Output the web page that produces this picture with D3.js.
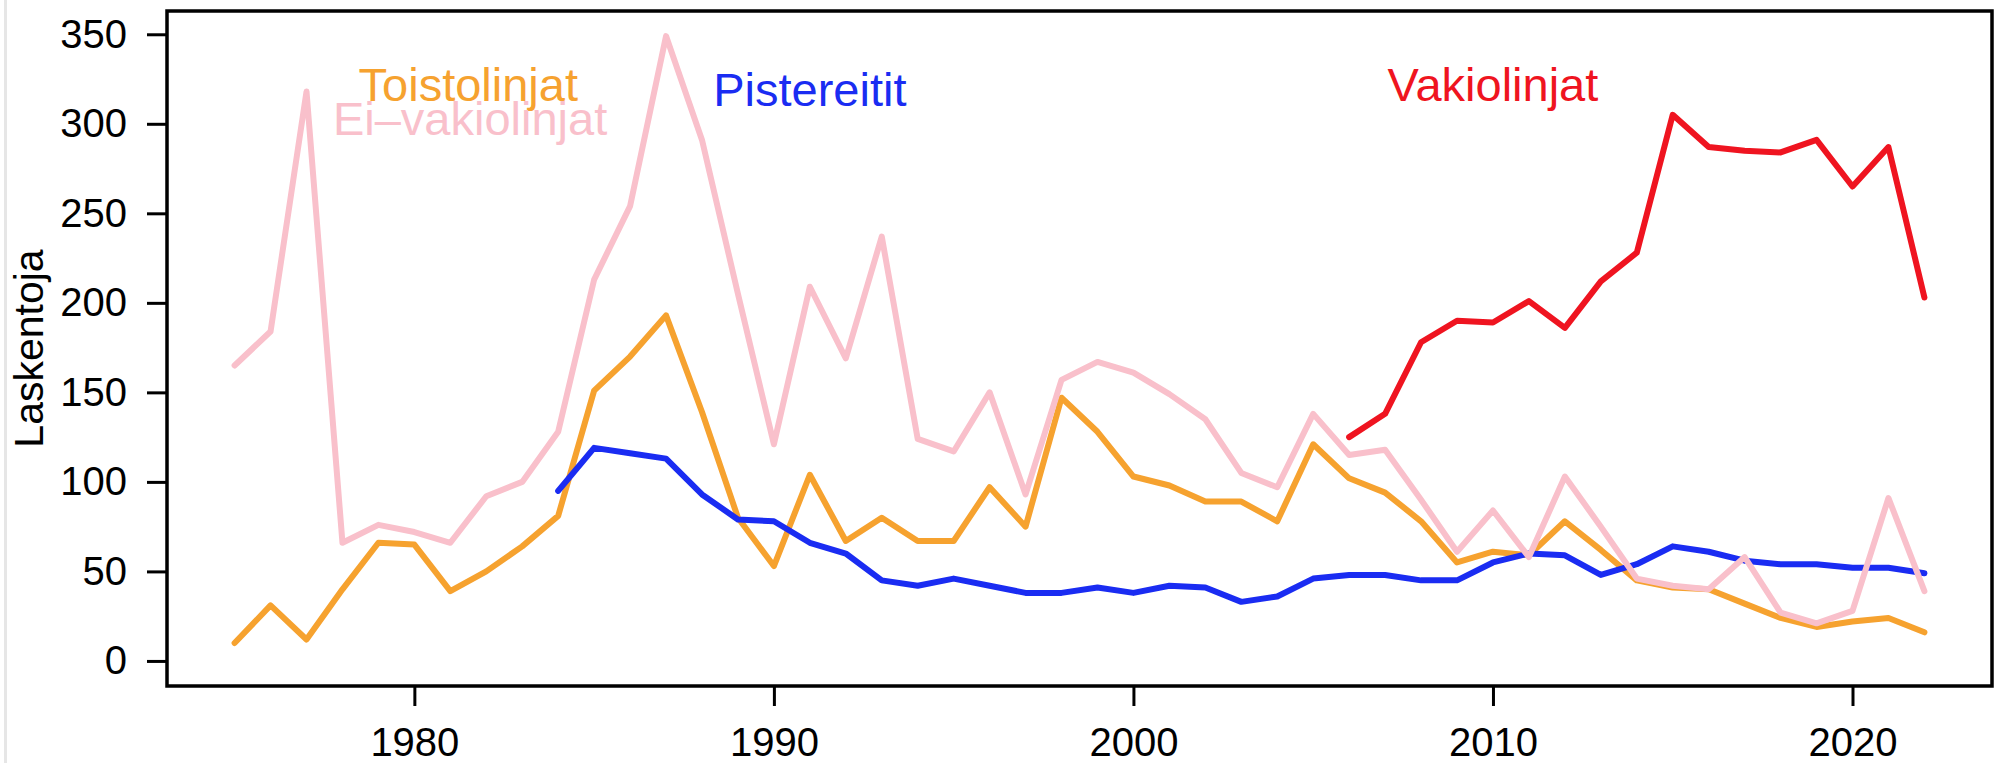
<!DOCTYPE html>
<html lang="fi">
<head>
    <meta charset="UTF-8">
    <script src="https://d3js.org/d3.v7.min.js"></script>
    <style>
        body {
            margin: 0;
            background: #fff;
            font-family: "Liberation Sans", Arial, Helvetica, sans-serif;
        }
        svg text {
            font-family: "Liberation Sans", Arial, Helvetica, sans-serif;
        }
    </style>
</head>
<body>
    <div id="chart"></div>
    <script>
        // vuodet ja sarjat (luettu kuvasta)
        const years = d3.range(1975, 2023);

        const toisto = [10, 31, 12, 40, 66, 65, 39, 50, 64, 81, 151, 170, 193, 139, 80, 53,
            104, 67, 80, 67, 67, 97, 75, 147, 128, 103, 98, 89, 89, 78, 121, 102,
            94, 78, 55, 61, 59, 78, 62, 45, 41, 40, 32, 24, 19, 22, 24, 16];

        const eiVakio = [165, 184, 318, 66, 76, 72, 66, 92, 100, 128, 213, 254, 349, 291, 205, 121,
            209, 169, 237, 124, 117, 150, 93, 157, 167, 161, 149, 135, 105, 97, 138, 115,
            118, 90, 61, 84, 58, 103, 75, 46, 42, 40, 58, 27, 21, 28, 91, 39];

        const pisteYears = d3.range(1984, 2023);
        const piste = [95, 119, 116, 113, 93, 79, 78, 66, 60, 45, 42, 46, 42, 38, 38, 41,
            38, 42, 41, 33, 36, 46, 48, 48, 45, 45, 55, 60, 59, 48, 54, 64,
            61, 56, 54, 54, 52, 52, 49];

        const vakioYears = d3.range(2006, 2023);
        const vakio = [125, 138, 178, 190, 189, 201, 186, 212, 228, 305, 287, 285, 284, 291, 265, 287, 203];

        const yTicks = [0, 50, 100, 150, 200, 250, 300, 350];
        const xTicks = [1980, 1990, 2000, 2010, 2020];

        // tekstit kuvaajan sisällä: [teksti, vuosi, arvo, väri]
        const labels = [
            ["Toistolinjat", 1981.5, 313, "#f6a22f"],
            ["Ei\u2013vakiolinjat", 1981.55, 293.6, "#f9c0cb"],
            ["Pistereitit", 1991.0, 309.8, "#1a2cf2"],
            ["Vakiolinjat", 2010.0, 313, "#ef1420"]
        ];

        const width = 2003, height = 763;
        const box = { left: 167, right: 1992, top: 11, bottom: 686 };

        const svg = d3.select("#chart").append("svg")
            .attr("width", width)
            .attr("height", height);

        // vaalea reunaviiva vasemmalla
        svg.append("rect")
            .attr("x", 4).attr("y", 0)
            .attr("width", 3).attr("height", height)
            .attr("fill", "#e6e6e6");

        const x = d3.scaleLinear()
            .domain([1973.12, 2023.88])
            .range([box.left, box.right]);

        const y = d3.scaleLinear()
            .domain([-14, 363])
            .range([box.bottom, box.top]);

        const line = d3.line()
            .x(d => x(d[0]))
            .y(d => y(d[1]));

        const series = [
            { yrs: years, vals: toisto, color: "#f6a22f" },
            { yrs: pisteYears, vals: piste, color: "#1a2cf2" },
            { yrs: years, vals: eiVakio, color: "#f9c0cb" },
            { yrs: vakioYears, vals: vakio, color: "#ef1420" }
        ];

        series.forEach(s => {
            svg.append("path")
                .datum(s.yrs.map((yr, i) => [yr, s.vals[i]]))
                .attr("d", line)
                .attr("fill", "none")
                .attr("stroke", s.color)
                .attr("stroke-width", 6)
                .attr("stroke-linejoin", "round")
                .attr("stroke-linecap", "round");
        });

        svg.selectAll(".lbl")
            .data(labels)
            .enter().append("text")
            .attr("class", "lbl")
            .attr("x", d => x(d[1]))
            .attr("y", d => y(d[2]))
            .attr("text-anchor", "middle")
            .attr("font-size", 47)
            .attr("fill", d => d[3])
            .text(d => d[0]);

        // akselit
        const gx = svg.append("g")
            .attr("transform", `translate(0,${box.bottom})`)
            .call(d3.axisBottom(x).tickValues(xTicks).tickSize(20).tickPadding(22).tickFormat(d3.format("d")));

        const gy = svg.append("g")
            .attr("transform", `translate(${box.left},0)`)
            .call(d3.axisLeft(y).tickValues(yTicks).tickSize(20).tickPadding(20));

        [gx, gy].forEach(g => {
            g.select(".domain").remove();
            g.selectAll(".tick line").attr("stroke", "#000").attr("stroke-width", 3);
            g.selectAll(".tick text").attr("fill", "#000").attr("font-size", 40);
        });

        svg.append("rect")
            .attr("x", box.left).attr("y", box.top)
            .attr("width", box.right - box.left)
            .attr("height", box.bottom - box.top)
            .attr("fill", "none")
            .attr("stroke", "#000")
            .attr("stroke-width", 3.5);

        svg.append("text")
            .attr("transform", `translate(43,${(box.top + box.bottom) / 2}) rotate(-90)`)
            .attr("text-anchor", "middle")
            .attr("font-size", 41)
            .attr("fill", "#000")
            .text("Laskentoja");
    </script>
</body>
</html>
